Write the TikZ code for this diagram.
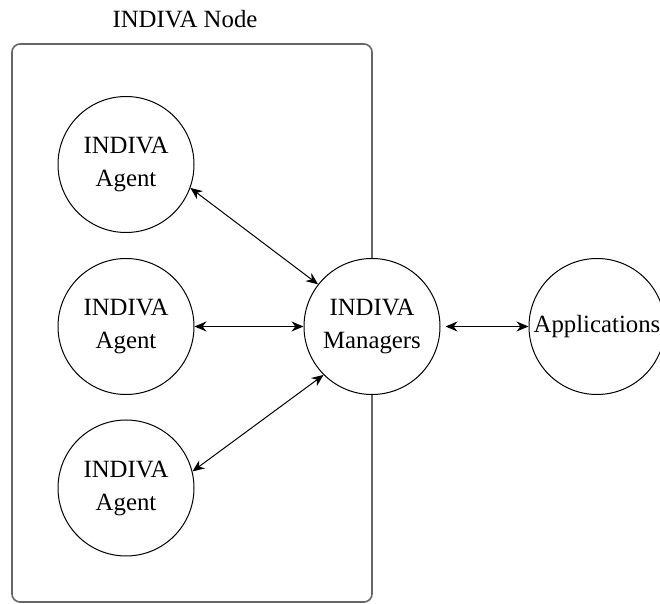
\documentclass[tikz,border=0pt]{standalone}
\usepackage{fontspec}
\setmainfont{Liberation Serif}
\usetikzlibrary{arrows.meta}

\tikzset{
	proc/.style={circle, draw, fill=white, line width=0.5pt, minimum size=68pt, inner sep=0pt, align=center, font=\fontsize{12.4}{16.5}\selectfont},
	link/.style={{Stealth[length=6pt,width=5pt]}-{Stealth[length=6pt,width=5pt]}, line width=0.5pt},
	nodebox/.style={draw=black!60, line width=0.8pt, rounded corners=4pt}
}

\begin{document}
\begin{tikzpicture}[x=0.5pt, y=-0.5pt]
	\useasboundingbox (0,0) rectangle (660,604);
		%node box + label
			\draw[nodebox] (12,44) rectangle (372,602);
			\node[font=\fontsize{12.4}{15}\selectfont] (boxlabel) at (185,19) {INDIVA Node};
		%agents
			\node[proc] (agentA) at (126,164.5) {INDIVA\\Agent};
			\node[proc] (agentB) at (126,326.5) {INDIVA\\Agent};
			\node[proc] (agentC) at (126,488) {INDIVA\\Agent};
		%managers + applications
			\node[proc] (managers) at (372,326.5) {INDIVA\\Managers};
			\node[proc] (apps) at (597,326.5) {Applications};
		%links
			\draw[link] (agentA.-20) -- (managers.142);
			\draw[link] (agentB) -- (managers);
			\draw[link] (agentC.14) -- (managers.225);
			\draw[link, shorten <=2.5pt] (managers) -- (apps);
\end{tikzpicture}
\end{document}
